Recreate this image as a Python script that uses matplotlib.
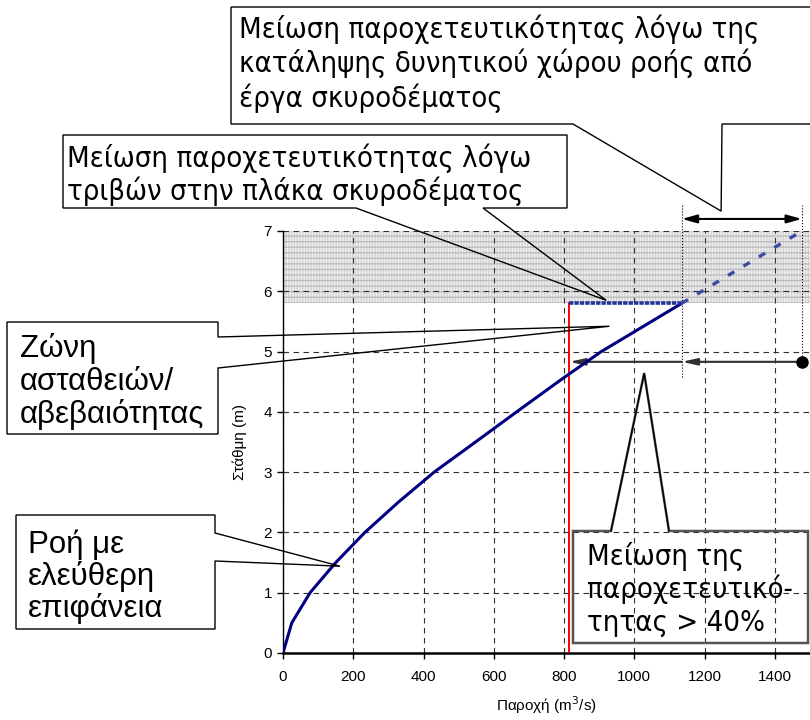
import matplotlib
matplotlib.use("Agg")
import matplotlib.pyplot as plt
from matplotlib.patches import Polygon

# ---------------- data ----------------
Q_curve = [0, 25, 77, 150, 233, 328, 430, 548, 665, 800, 906, 1135]
H_curve = [0, 0.5, 1.0, 1.5, 2.0, 2.5, 3.0, 3.5, 4.0, 4.57, 5.0, 5.8]
Q_ext = [1135, 1477]          # dashed continuation (potential flow)
H_ext = [5.8, 7.0]
Q_flat = [815, 1135]          # friction-limited plateau
H_flat = [5.8, 5.8]
Q_red = 815                   # reduced capacity
H_zone = [5.8, 7.0]           # instability zone
Q_arrow = [815, 1135, 1477]
H_arrow = 4.83
H_top_arrow = 7.2
x_ticks = [0, 200, 400, 600, 800, 1000, 1200, 1400]
y_ticks = [0, 1, 2, 3, 4, 5, 6, 7]

W, H = 810, 720
fig = plt.figure(figsize=(W / 100, H / 100), dpi=100)
ax = fig.add_axes([283 / W, (H - 653) / H, (810 - 283) / W, (653 - 231) / H])
ax.set_xlim(0, 1500)
ax.set_ylim(0, 7)

# instability zone (hatched grey band)
ax.fill_between([0, 1500], H_zone[0], H_zone[1], facecolor="#d2d2d2",
                edgecolor="#f2f2f2", hatch="||||||", linewidth=0, zorder=0.2)
ax.fill_between([0, 1500], H_zone[0], H_zone[1], facecolor="none",
                edgecolor="#bdbdbd", hatch="---", linewidth=0, zorder=0.25)

ax.set_axisbelow(True)
ax.grid(True, color="#303030", linestyle=(0, (5, 4)), linewidth=0.8)

# curves
ax.plot(Q_curve, H_curve, color="#000080", lw=2.2, zorder=4, solid_capstyle="butt")
ax.plot(Q_ext, H_ext, color="#3a4aa0", lw=2.4, linestyle=(0, (2.2, 3.2)), zorder=4)
ax.plot(Q_flat, H_flat, color="#24349a", lw=2.6, linestyle=(0, (1.2, 0.3)), zorder=4)
ax.plot([Q_red, Q_red], [0, H_zone[0]], color="red", lw=1.4, zorder=3)

# dotted guide lines
ax.plot([Q_arrow[1]] * 2, [4.58, 7.43], color="black", lw=0.8, ls=":", clip_on=False)
ax.plot([Q_arrow[2]] * 2, [H_arrow, 7.43], color="black", lw=0.8, ls=":", clip_on=False)

# arrows
ap = dict(arrowstyle="-|>,head_length=0.9,head_width=0.2", color="#303030", lw=1.5,
          shrinkA=0, shrinkB=0)
ax.annotate("", xy=(Q_arrow[1], H_arrow), xytext=(Q_arrow[2], H_arrow), arrowprops=ap,
            annotation_clip=False)
ax.annotate("", xy=(Q_arrow[0], H_arrow), xytext=(Q_arrow[1], H_arrow), arrowprops=ap,
            annotation_clip=False)
ax.plot([Q_arrow[2]], [H_arrow], "o", color="black", ms=8, clip_on=False, zorder=6)
ap2 = dict(arrowstyle="<|-|>,head_length=0.9,head_width=0.25", color="black", lw=1.5,
           shrinkA=0, shrinkB=0)
ax.annotate("", xy=(Q_arrow[1], H_top_arrow), xytext=(Q_arrow[2], H_top_arrow),
            arrowprops=ap2, annotation_clip=False)

# axes styling
for s in ["top", "right"]:
    ax.spines[s].set_visible(False)
ax.spines["bottom"].set_linewidth(1.8)
ax.spines["left"].set_linewidth(1.0)
ax.set_xticks(x_ticks)
ax.set_yticks(y_ticks)
ax.tick_params(direction="out", length=4, width=1, labelsize=11)
ax.tick_params(axis="x", pad=8)
ax.tick_params(axis="y", pad=4)
for lab in ax.get_xticklabels() + ax.get_yticklabels():
    lab.set_family("Liberation Sans")
ax.set_xlabel("Παροχή (m$^3$/s)", family="Liberation Sans", fontsize=11, labelpad=8)
ax.set_ylabel("Στάθμη (m)", family="Liberation Sans", fontsize=11, labelpad=12)


# ---------------- callouts ----------------
def to_fig(pts):
    return [(x / W, 1 - y / H) for x, y in pts]


def tip_px(q, h):
    X, Y = ax.transData.transform((q, h))
    return (X, H - Y)


def callout(pts, ec="black", lw=1.0):
    p = Polygon(to_fig(pts), closed=True, fill=False, ec=ec, lw=lw,
                transform=fig.transFigure, clip_on=False, zorder=10)
    fig.add_artist(p)


def seg(pts, color="black", lw=1.0):
    xs, ys = zip(*to_fig(pts))
    fig.add_artist(plt.Line2D(xs, ys, color=color, lw=lw, transform=fig.transFigure,
                              zorder=11))


def lines(x, ys, texts, **kw):
    for y, t in zip(ys, texts):
        fig.text(x / W, 1 - y / H, t, ha="left", va="baseline", **kw)


tahoma = dict(family="DejaVu Sans", fontstretch="condensed", fontsize=21)
arial = dict(family="Liberation Sans", fontsize=22.5)

# box 1
t1 = tip_px(1247, 7.33)
callout([(231, 7), (820, 7), (820, 124), (722, 124), t1, (573, 124), (231, 124)])
lines(239, [38, 72, 107], ["Μείωση παροχετευτικότητας λόγω της",
                           "κατάληψης δυνητικού χώρου ροής από",
                           "έργα σκυροδέματος"], **tahoma)

# box 2
t2 = tip_px(920, 5.85)
callout([(63, 135), (567, 135), (567, 208), (483, 208), t2, (356, 208), (63, 208)])
lines(67, [167, 200], ["Μείωση παροχετευτικότητας λόγω",
                       "τριβών στην πλάκα σκυροδέματος"], **tahoma)

# box 3
t3 = tip_px(929, 5.42)
callout([(7, 322), (218, 322), (218, 337), t3, (218, 368), (218, 434), (7, 434)])
lines(20, [357, 390, 423], ["Ζώνη", "ασταθειών/", "αβεβαιότητας"], **arial)

# box 4
t4 = tip_px(162, 1.44)
callout([(16, 515), (215, 515), (215, 533), t4, (215, 561), (215, 629), (16, 629)])
lines(28, [553, 585, 617], ["Ροή με", "ελεύθερη", "επιφάνεια"], **arial)

# box 5
t5 = tip_px(1028, 4.64)
callout([(573, 531), (611, 531), t5, (669, 531), (808, 531), (808, 643), (573, 643)],
        ec="#555555", lw=1.8)
seg([(611, 531), t5, (669, 531)], color="black", lw=1.0)
lines(587, [565, 598, 631], ["Μείωση της", "παροχετευτικό-", "τητας > 40%"], **tahoma)

fig.savefig("out.png", dpi=100)
